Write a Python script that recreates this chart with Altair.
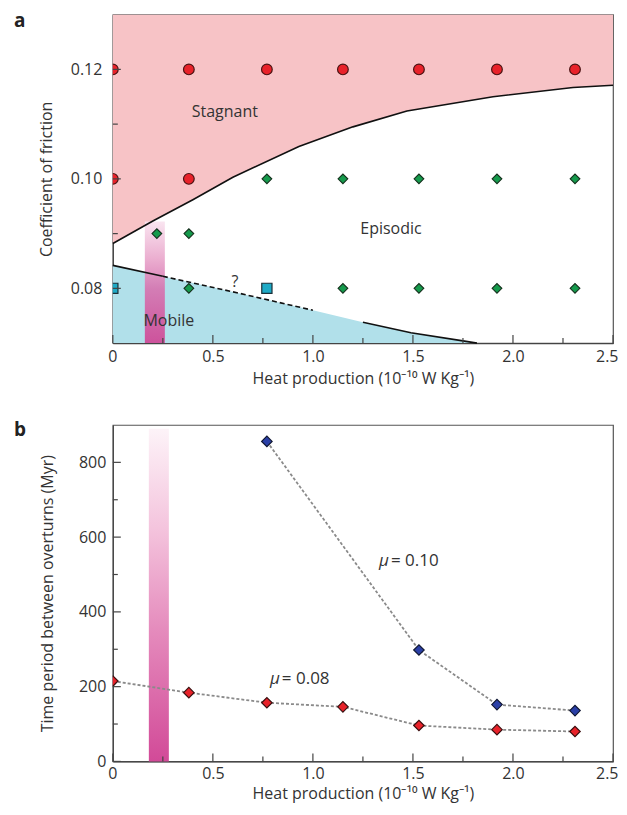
import altair as alt
import pandas as pd

FONT = "Open Sans"
TXT = "#333333"
AX = "#444444"

# ---------------- Panel a data ----------------
stag_x = [0, 0.38, 0.77, 1.15, 1.53, 1.92, 2.31, 0, 0.38]
stag_y = [0.12, 0.12, 0.12, 0.12, 0.12, 0.12, 0.12, 0.10, 0.10]

epi_x = [0.77, 1.15, 1.53, 1.92, 2.31, 0.22, 0.38, 0.38, 1.15, 1.53, 1.92, 2.31]
epi_y = [0.10, 0.10, 0.10, 0.10, 0.10, 0.09, 0.09, 0.08, 0.08, 0.08, 0.08, 0.08]

trans_x = [0, 0.77]
trans_y = [0.08, 0.08]

# stagnant / episodic boundary
sb_x = [0, 0.2, 0.4, 0.6, 0.93, 1.2, 1.47, 1.9, 2.3, 2.5]
sb_y = [0.0882, 0.0923, 0.0962, 0.1003, 0.1059, 0.1095, 0.1124, 0.1150, 0.1167, 0.1171]

# mobile / episodic boundary (solid, dashed, solid)
mb_x = [0, 0.25, 0.62, 1.0, 1.25, 1.49, 1.75, 1.82]
mb_y = [0.0842, 0.0822, 0.0792, 0.0760, 0.0738, 0.0719, 0.0704, 0.0700]
mb_seg = ["s1", "s1", "d", "d", "s2", "s2", "s2", "s2"]

band_a = {"x0": [0.16], "x1": [0.26], "y0": [0.07], "y1": [0.0922]}

a_labels = ["Stagnant", "Episodic", "Mobile", "?"]
a_lab_x = [0.56, 1.39, 0.28, 0.61]
a_lab_y = [0.1122, 0.0909, 0.0740, 0.0812]

a_xticks = [0, 0.5, 1.0, 1.5, 2.0, 2.5]
a_xminor = [0.25, 0.75, 1.25, 1.75, 2.25]
a_yticks = [0.08, 0.10, 0.12]
a_yminor = [0.09, 0.11]

# ---------------- Panel b data ----------------
mu10_x = [0.77, 1.53, 1.92, 2.31]
mu10_y = [856, 298, 152, 136]
mu08_x = [0, 0.38, 0.77, 1.15, 1.53, 1.92, 2.31]
mu08_y = [215, 184, 157, 146, 96, 85, 80]

band_b = {"x0": [0.18], "x1": [0.28], "y0": [0], "y1": [890]}

b_yticks = [0, 200, 400, 600, 800]
b_yminor = [100, 300, 500, 700]

XTITLE = "Heat production (10\u207b\u00b9\u2070 W Kg\u207b\u00b9)"

# ---------------- helpers ----------------
def xaxis(lp, tp):
    return alt.Axis(values=a_xticks, labelExpr="datum.value == 0 ? '0' : format(datum.value, '.1f')",
                    ticks=False, tickSize=0, grid=False, domainColor=AX, domainWidth=1.2,
                    labelFont=FONT, labelFontSize=16, labelColor=TXT, labelPadding=lp,
                    title=XTITLE, titleFont=FONT, titleFontSize=16, titleFontWeight="normal",
                    titleColor=TXT, titlePadding=tp, labelFlush=True, labelFlushOffset=5)


def make_xy(xdom, ydom, yaxis, lp, tp):
    xs = alt.Scale(domain=xdom, nice=False, zero=False)
    ys = alt.Scale(domain=ydom, nice=False, zero=False)

    def X(f):
        return alt.X(f, type="quantitative", scale=xs, axis=xaxis(lp, tp))

    def Y(f):
        return alt.Y(f, type="quantitative", scale=ys, axis=yaxis)
    return X, Y


def tick_layers(X, Y, W, H, xt, xm, yt, ym):
    layers = []
    for vals, ln in ((xt, 8), (xm, 5)):
        d = pd.DataFrame({"v": vals})
        layers.append(alt.Chart(d).mark_rule(color=AX, strokeWidth=1.2).encode(
            x=X("v"), y=alt.value(H), y2=alt.value(H - ln)))
    for vals, ln in ((yt, 8), (ym, 5)):
        d = pd.DataFrame({"v": vals})
        layers.append(alt.Chart(d).mark_rule(color=AX, strokeWidth=1.2).encode(
            y=Y("v"), x=alt.value(0), x2=alt.value(ln)))
    return layers


# ---------------- Panel a ----------------
WA, HA = 501, 329
yaxis_a = alt.Axis(values=a_yticks, format=".2f", ticks=False, tickSize=0, grid=False, domainColor=AX,
                   domainWidth=1.2, labelFont=FONT, labelFontSize=16, labelColor=TXT, labelPadding=11,
                   title="Coefficient of friction", titleFont=FONT, titleFontSize=16,
                   titleFontWeight="normal", titleColor=TXT, titlePadding=16)
XA, YA = make_xy([0, 2.5], [0.07, 0.13], yaxis_a, 5, 6)

sb = pd.DataFrame({"x": sb_x, "y": sb_y})
mb = pd.DataFrame({"x": mb_x, "y": mb_y, "seg": mb_seg})

stag_area = alt.Chart(sb).mark_area(color="#f7c3c6", opacity=1).encode(
    x=XA("x"), y=YA("y"), y2=alt.datum(0.13))
mob_area = alt.Chart(mb).mark_area(color="#b1e0ea", opacity=1).encode(
    x=XA("x"), y=YA("y"), y2=alt.datum(0.07))

grad_a = alt.LinearGradient(gradient="linear", x1=0, x2=0, y1=0, y2=1, stops=[
    alt.GradientStop(offset=0, color="#f9e3ef"),
    alt.GradientStop(offset=0.3, color="#eaa9cd"),
    alt.GradientStop(offset=0.55, color="#d676b1"),
    alt.GradientStop(offset=1, color="#cf4896")])
band_a_layer = alt.Chart(pd.DataFrame(band_a)).mark_rect(fill=grad_a, opacity=0.93).encode(
    x=XA("x0"), x2="x1", y=YA("y0"), y2="y1")

sb_line = alt.Chart(sb).mark_line(color="#111111", strokeWidth=1.6).encode(x=XA("x"), y=YA("y"))
mb_solid = alt.Chart(mb).transform_filter("datum.seg != 'd'").mark_line(
    color="#111111", strokeWidth=1.6).encode(x=XA("x"), y=YA("y"), detail="seg:N")
mb_dash = alt.Chart(mb).transform_filter("datum.seg == 'd' || datum.x == 0.25 || datum.x == 1.0").mark_line(
    color="#111111", strokeWidth=1.6, strokeDash=[5, 3]).encode(x=XA("x"), y=YA("y"))

stag_pts = alt.Chart(pd.DataFrame({"x": stag_x, "y": stag_y})).mark_point(
    shape="circle", filled=True, size=115, fill="#e8222a", stroke="#4a1414", strokeWidth=1.2,
    opacity=1, clip=True).encode(x=XA("x"), y=YA("y"))
epi_pts = alt.Chart(pd.DataFrame({"x": epi_x, "y": epi_y})).mark_point(
    shape="diamond", filled=True, size=95, fill="#159a4c", stroke="#15301d", strokeWidth=1.1,
    opacity=1, clip=True).encode(x=XA("x"), y=YA("y"))
trans_pts = alt.Chart(pd.DataFrame({"x": trans_x, "y": trans_y})).mark_point(
    shape="square", filled=True, size=105, fill="#1eaac6", stroke="#1b2f38", strokeWidth=1.2,
    opacity=1, clip=True).encode(x=XA("x"), y=YA("y"))

a_text = alt.Chart(pd.DataFrame({"t": a_labels, "x": a_lab_x, "y": a_lab_y})).mark_text(
    font=FONT, fontSize=16, color=TXT).encode(x=XA("x"), y=YA("y"), text="t:N")

a_letter = alt.Chart(pd.DataFrame({"t": ["a"]})).mark_text(
    font=FONT, fontSize=19, fontWeight="bold", color="#222222", align="left", baseline="top").encode(
    x=alt.value(-99), y=alt.value(-3), text="t:N")

panel_a = alt.layer(
    stag_area, mob_area, band_a_layer, sb_line, mb_solid, mb_dash,
    stag_pts, epi_pts, trans_pts, a_text,
    *tick_layers(XA, YA, WA, HA, a_xticks, a_xminor, a_yticks, a_yminor),
    a_letter,
).properties(width=WA, height=HA)

# ---------------- Panel b ----------------
WB, HB = 501, 337
yaxis_b = alt.Axis(values=b_yticks, format="d", ticks=False, tickSize=0, grid=False, domainColor=AX,
                   domainWidth=1.2, labelFont=FONT, labelFontSize=16, labelColor=TXT, labelPadding=7,
                   title="Time period between overturns (Myr)", titleFont=FONT, titleFontSize=16,
                   titleFontWeight="normal", titleColor=TXT, titlePadding=23)
XB, YB = make_xy([0, 2.5], [0, 900], yaxis_b, 4, 4)

grad_b = alt.LinearGradient(gradient="linear", x1=0, x2=0, y1=0, y2=1, stops=[
    alt.GradientStop(offset=0, color="#fdf3f8"),
    alt.GradientStop(offset=0.3, color="#f4c4dd"),
    alt.GradientStop(offset=0.6, color="#e58cbd"),
    alt.GradientStop(offset=1, color="#d24a98")])
band_b_layer = alt.Chart(pd.DataFrame(band_b)).mark_rect(fill=grad_b, opacity=1).encode(
    x=XB("x0"), x2="x1", y=YB("y0"), y2="y1")

d10 = pd.DataFrame({"x": mu10_x, "y": mu10_y})
d08 = pd.DataFrame({"x": mu08_x, "y": mu08_y})

line10 = alt.Chart(d10).mark_line(color="#8a8a8a", strokeWidth=1.8, strokeDash=[3, 2]).encode(
    x=XB("x"), y=YB("y"))
line08 = alt.Chart(d08).mark_line(color="#8a8a8a", strokeWidth=1.8, strokeDash=[3, 2]).encode(
    x=XB("x"), y=YB("y"))
pts10 = alt.Chart(d10).mark_point(shape="diamond", filled=True, size=110, fill="#2a3fa6",
                                  stroke="#111833", strokeWidth=1.2, opacity=1, clip=True).encode(
    x=XB("x"), y=YB("y"))
pts08 = alt.Chart(d08).mark_point(shape="diamond", filled=True, size=110, fill="#e8222a",
                                  stroke="#3a1010", strokeWidth=1.2, opacity=1, clip=True).encode(
    x=XB("x"), y=YB("y"))

mu_labels = pd.DataFrame({"x": [1.33, 0.785], "y": [537, 221], "v": ["= 0.10", "= 0.08"]})
mu_sym = alt.Chart(mu_labels).mark_text(font=FONT, fontSize=17, fontStyle="italic", color=TXT,
                                        align="left").encode(x=XB("x"), y=YB("y"), text=alt.value("\u03bc"))
mu_val = alt.Chart(mu_labels).mark_text(font=FONT, fontSize=17, color=TXT, align="left", dx=12).encode(
    x=XB("x"), y=YB("y"), text="v:N")

b_letter = alt.Chart(pd.DataFrame({"t": ["b"]})).mark_text(
    font=FONT, fontSize=19, fontWeight="bold", color="#222222", align="left", baseline="top").encode(
    x=alt.value(-99), y=alt.value(-4), text="t:N")

panel_b = alt.layer(
    band_b_layer, line10, line08, pts10, pts08, mu_sym, mu_val,
    *tick_layers(XB, YB, WB, HB, a_xticks, a_xminor, b_yticks, b_yminor),
    b_letter,
).properties(width=WB, height=HB)

chart = alt.vconcat(panel_a, panel_b, spacing=33).properties(
    padding={"left": 5, "top": 2, "right": 0, "bottom": 0}
).configure_view(stroke="#555555", strokeWidth=1.2)

chart.save("out.html", embed_options={"renderer": "svg", "actions": False})
